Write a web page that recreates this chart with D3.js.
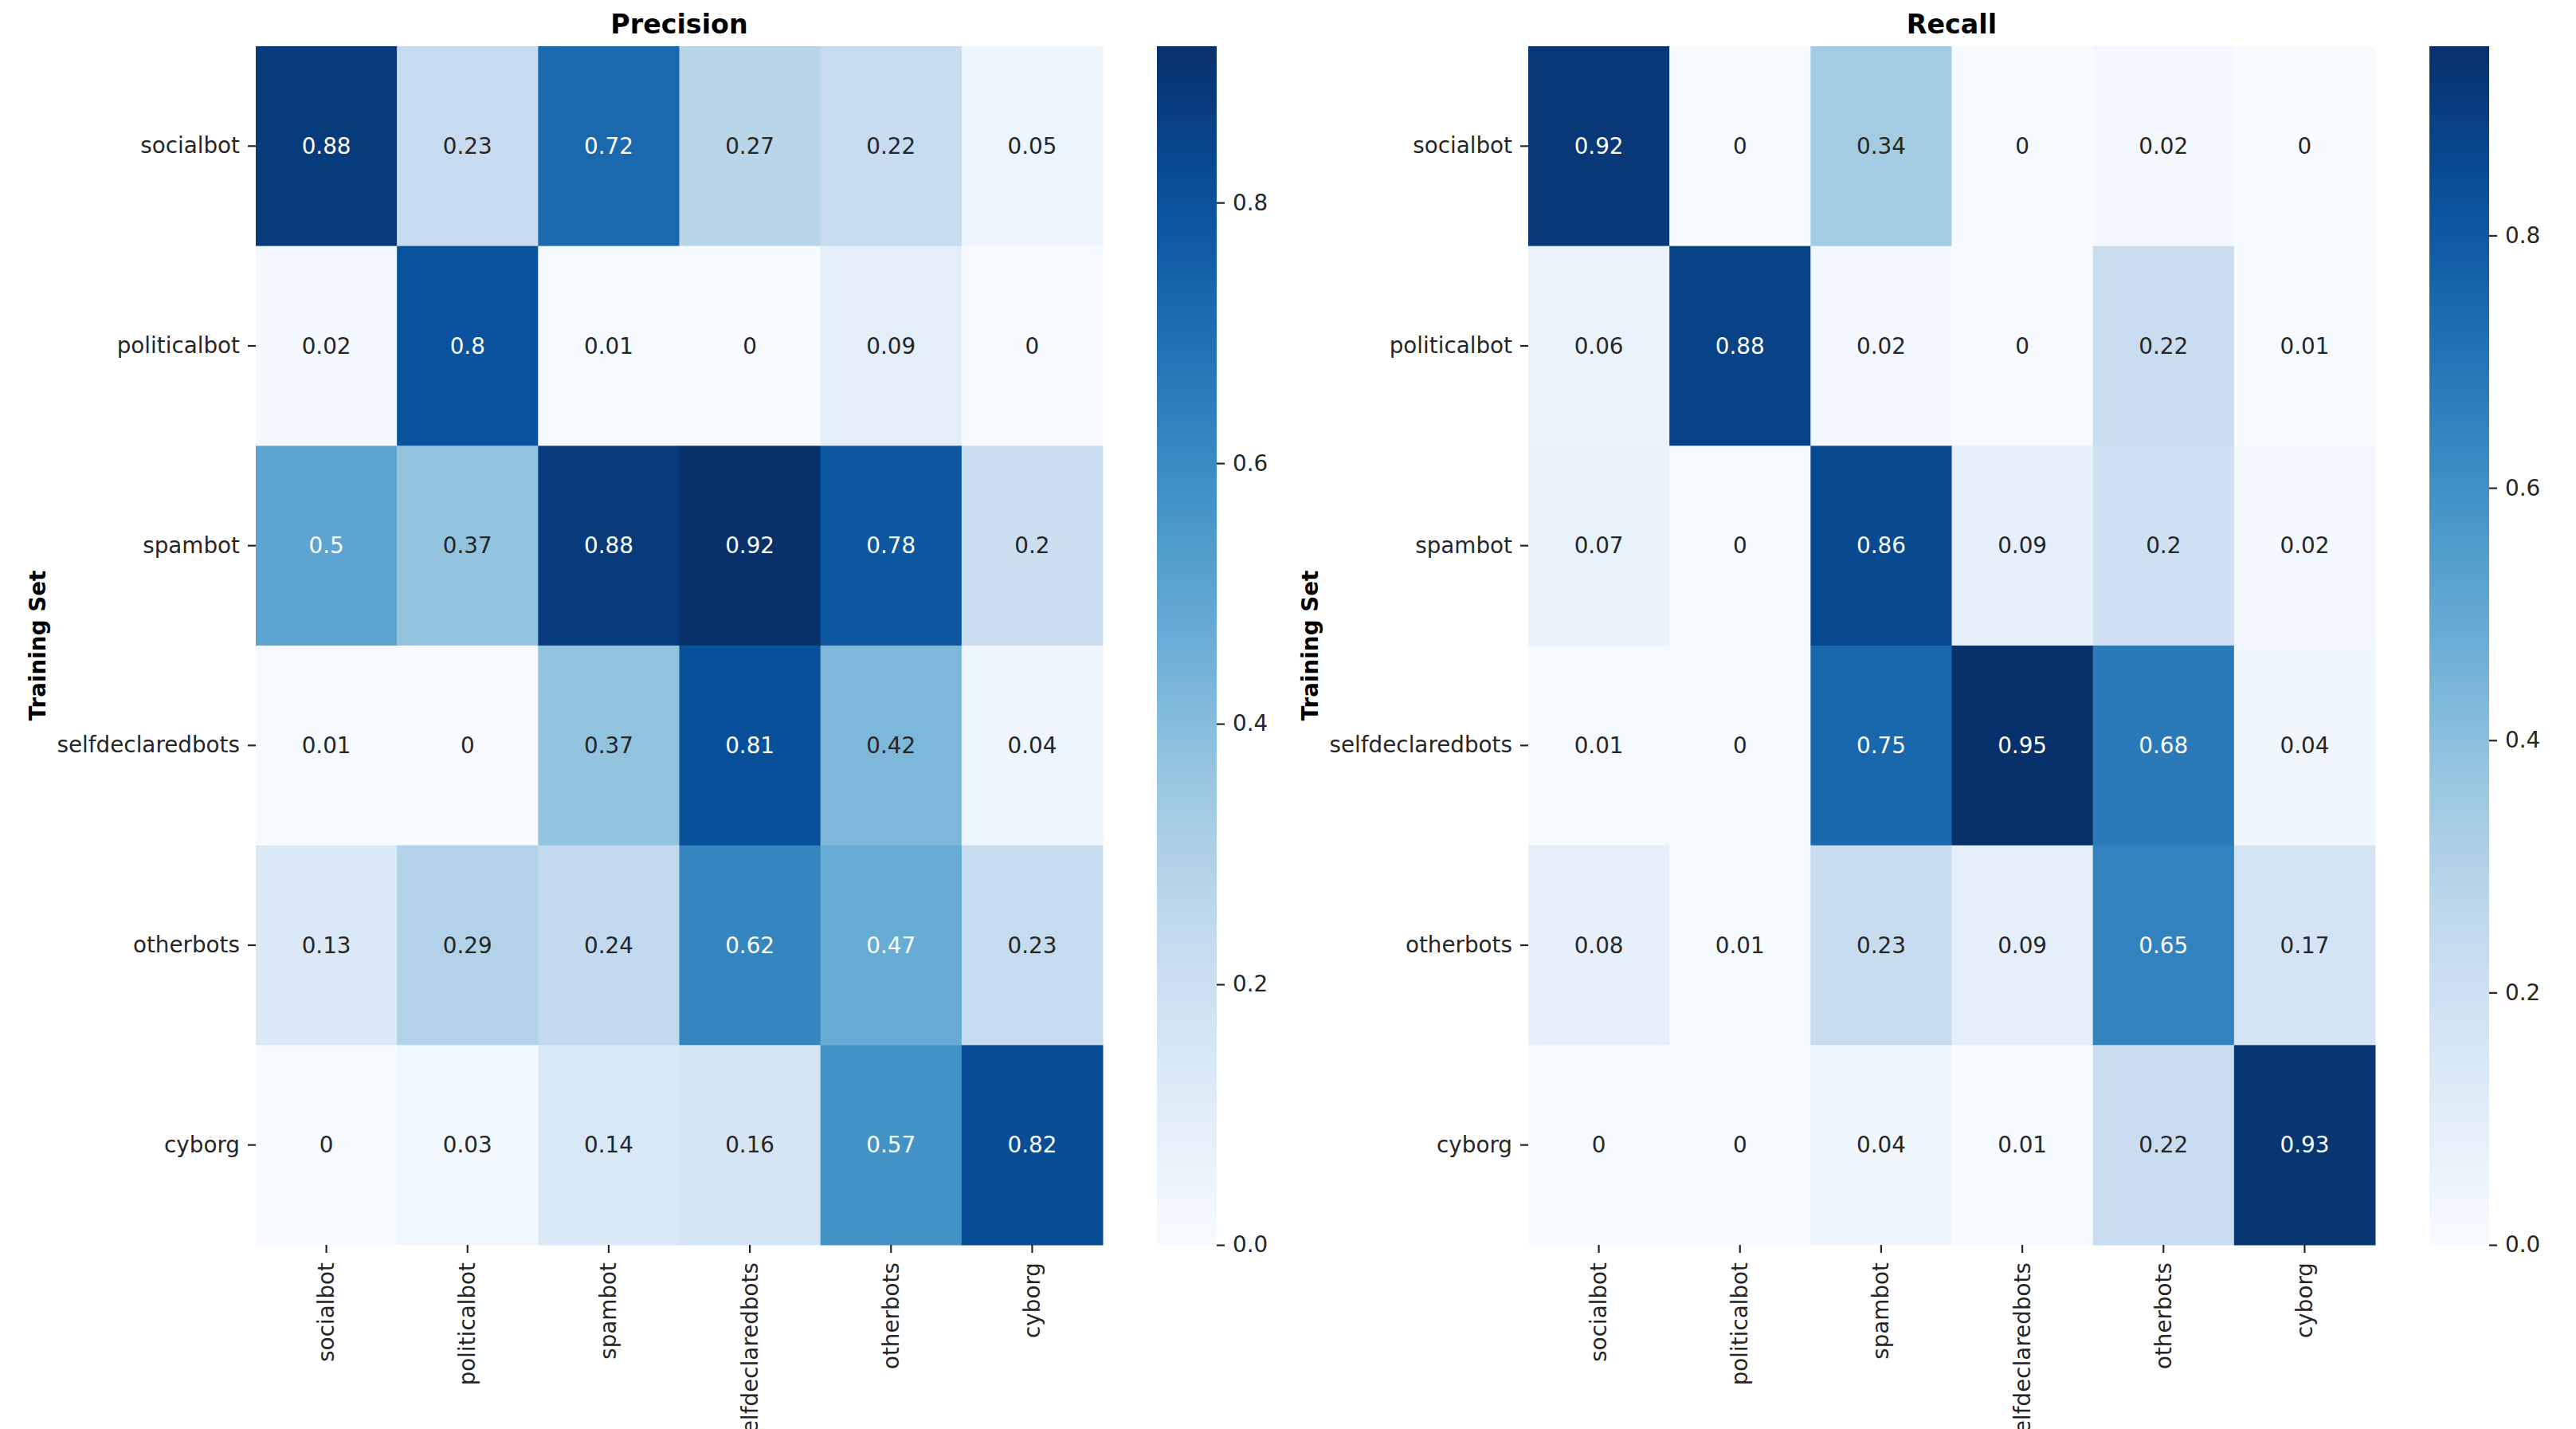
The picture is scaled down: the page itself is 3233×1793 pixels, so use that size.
<!DOCTYPE html>
<html lang="en">

<head>
    <meta charset="utf-8">
    <script src='https://d3js.org/d3.v7.min.js'></script>
    <style>
        body { margin: 0; background: #fff; }
    </style>
</head>

<body>
    <div class="chart"></div>

    <script>
        // categories (same for rows = training set and columns = test set)
        const categories = ["socialbot", "politicalbot", "spambot", "selfdeclaredbots", "otherbots", "cyborg"];

        // precision values, one row per training set
        const precision = [
            [0.88, 0.23, 0.72, 0.27, 0.22, 0.05],
            [0.02, 0.8, 0.01, 0, 0.09, 0],
            [0.5, 0.37, 0.88, 0.92, 0.78, 0.2],
            [0.01, 0, 0.37, 0.81, 0.42, 0.04],
            [0.13, 0.29, 0.24, 0.62, 0.47, 0.23],
            [0, 0.03, 0.14, 0.16, 0.57, 0.82]
        ];

        // recall values, one row per training set
        const recall = [
            [0.92, 0, 0.34, 0, 0.02, 0],
            [0.06, 0.88, 0.02, 0, 0.22, 0.01],
            [0.07, 0, 0.86, 0.09, 0.2, 0.02],
            [0.01, 0, 0.75, 0.95, 0.68, 0.04],
            [0.08, 0.01, 0.23, 0.09, 0.65, 0.17],
            [0, 0, 0.04, 0.01, 0.22, 0.93]
        ];

        const colorbarTicks = [0, 0.2, 0.4, 0.6, 0.8];

        // matplotlib "Blues" stops
        const blues = ["#f7fbff", "#deebf7", "#c6dbef", "#9ecae1", "#6baed6", "#4292c6", "#2171b5", "#08519c", "#08306b"];

        // Set Dimensions
        const width = 3233;
        const height = 1793;
        const mapTop = 58;
        const mapW = 1063;
        const mapH = 1504;
        const cbarGap = 68;
        const cbarW = 75;
        const fontSize = 27.8;
        const textColor = "#262626";

        const svg = d3.select(".chart")
            .append("svg")
            .attr("width", width)
            .attr("height", height)
            .style("font-family", "DejaVu Sans");

        svg.append("rect").attr("width", width).attr("height", height).attr("fill", "#fff");

        // seaborn style text colour: dark text on light cells
        function luminance(c) {
            const rgb = d3.rgb(c);
            const lin = [rgb.r, rgb.g, rgb.b].map(v => {
                v = v / 255;
                return v <= 0.03928 ? v / 12.92 : Math.pow((v + 0.055) / 1.055, 2.4);
            });
            return 0.2126 * lin[0] + 0.7152 * lin[1] + 0.0722 * lin[2];
        }

        function styleAxis(g) {
            g.select(".domain").remove();
            g.selectAll("line").attr("stroke", textColor).attr("stroke-width", 2.2);
            g.selectAll("text")
                .attr("fill", textColor)
                .style("font-family", "DejaVu Sans")
                .style("font-size", fontSize + "px");
        }

        function createHeatmap(data, title, x0, id) {
            const vmax = d3.max(data.flat());
            const t = d3.scaleLinear().domain(d3.range(blues.length).map(i => i / (blues.length - 1))).range(blues);
            const color = v => t(v / vmax);

            const x = d3.scaleBand().domain(categories).range([x0, x0 + mapW]);
            const y = d3.scaleBand().domain(categories).range([mapTop, mapTop + mapH]);

            const g = svg.append("g");

            // cells
            const cells = [];
            data.forEach((row, i) => row.forEach((v, j) => cells.push({ row: categories[i], col: categories[j], v: v })));

            g.selectAll(".cell")
                .data(cells)
                .enter()
                .append("rect")
                .attr("class", "cell")
                .attr("x", d => x(d.col)).attr("y", d => y(d.row))
                .attr("width", x.bandwidth() + 0.5).attr("height", y.bandwidth() + 0.5)
                .attr("fill", d => color(d.v));

            // annotations
            g.selectAll(".annot")
                .data(cells)
                .enter()
                .append("text")
                .attr("class", "annot")
                .attr("x", d => x(d.col) + x.bandwidth() / 2)
                .attr("y", d => y(d.row) + y.bandwidth() / 2)
                .attr("text-anchor", "middle")
                .attr("dominant-baseline", "central")
                .style("font-size", fontSize + "px")
                .attr("fill", d => luminance(color(d.v)) > 0.408 ? textColor : "#fff")
                .text(d => d.v);

            // left axis
            svg.append("g")
                .attr("transform", `translate(${x0},0)`)
                .call(d3.axisLeft(y).tickSize(10).tickPadding(10))
                .call(styleAxis);

            // bottom axis with rotated labels
            const xa = svg.append("g")
                .attr("transform", `translate(0,${mapTop + mapH})`)
                .call(d3.axisBottom(x).tickSize(10).tickPadding(10))
                .call(styleAxis);
            xa.selectAll("text")
                .attr("transform", "rotate(-90)")
                .attr("x", -22).attr("y", 0).attr("dy", null)
                .attr("text-anchor", "end")
                .attr("dominant-baseline", "central");

            // title
            svg.append("text")
                .attr("x", x0 + mapW / 2).attr("y", mapTop - 16)
                .attr("text-anchor", "middle")
                .style("font-size", "33.3px").style("font-weight", "bold")
                .attr("fill", "#000")
                .text(title);

            // y label
            svg.append("text")
                .attr("transform", `translate(${x0 - 274},${mapTop + mapH / 2}) rotate(-90)`)
                .attr("text-anchor", "middle")
                .attr("dominant-baseline", "central")
                .style("font-size", fontSize + "px").style("font-weight", "bold")
                .attr("fill", "#000")
                .text("Training Set");

            // colorbar
            const cx = x0 + mapW + cbarGap;
            const grad = svg.append("defs").append("linearGradient")
                .attr("id", id)
                .attr("x1", 0).attr("y1", 1).attr("x2", 0).attr("y2", 0);
            d3.range(0, 1.0001, 0.05).forEach(o => {
                grad.append("stop").attr("offset", o).attr("stop-color", t(o));
            });
            svg.append("rect")
                .attr("x", cx).attr("y", mapTop)
                .attr("width", cbarW).attr("height", mapH)
                .attr("fill", `url(#${id})`);

            const c = d3.scaleLinear().domain([0, vmax]).range([mapTop + mapH, mapTop]);
            svg.append("g")
                .attr("transform", `translate(${cx + cbarW},0)`)
                .call(d3.axisRight(c).tickValues(colorbarTicks).tickFormat(d3.format(".1f")).tickSize(10).tickPadding(10))
                .call(styleAxis);
        }

        createHeatmap(precision, "Precision", 321, "gradP");
        createHeatmap(recall, "Recall", 1918, "gradR");
    </script>
</body>

</html>
